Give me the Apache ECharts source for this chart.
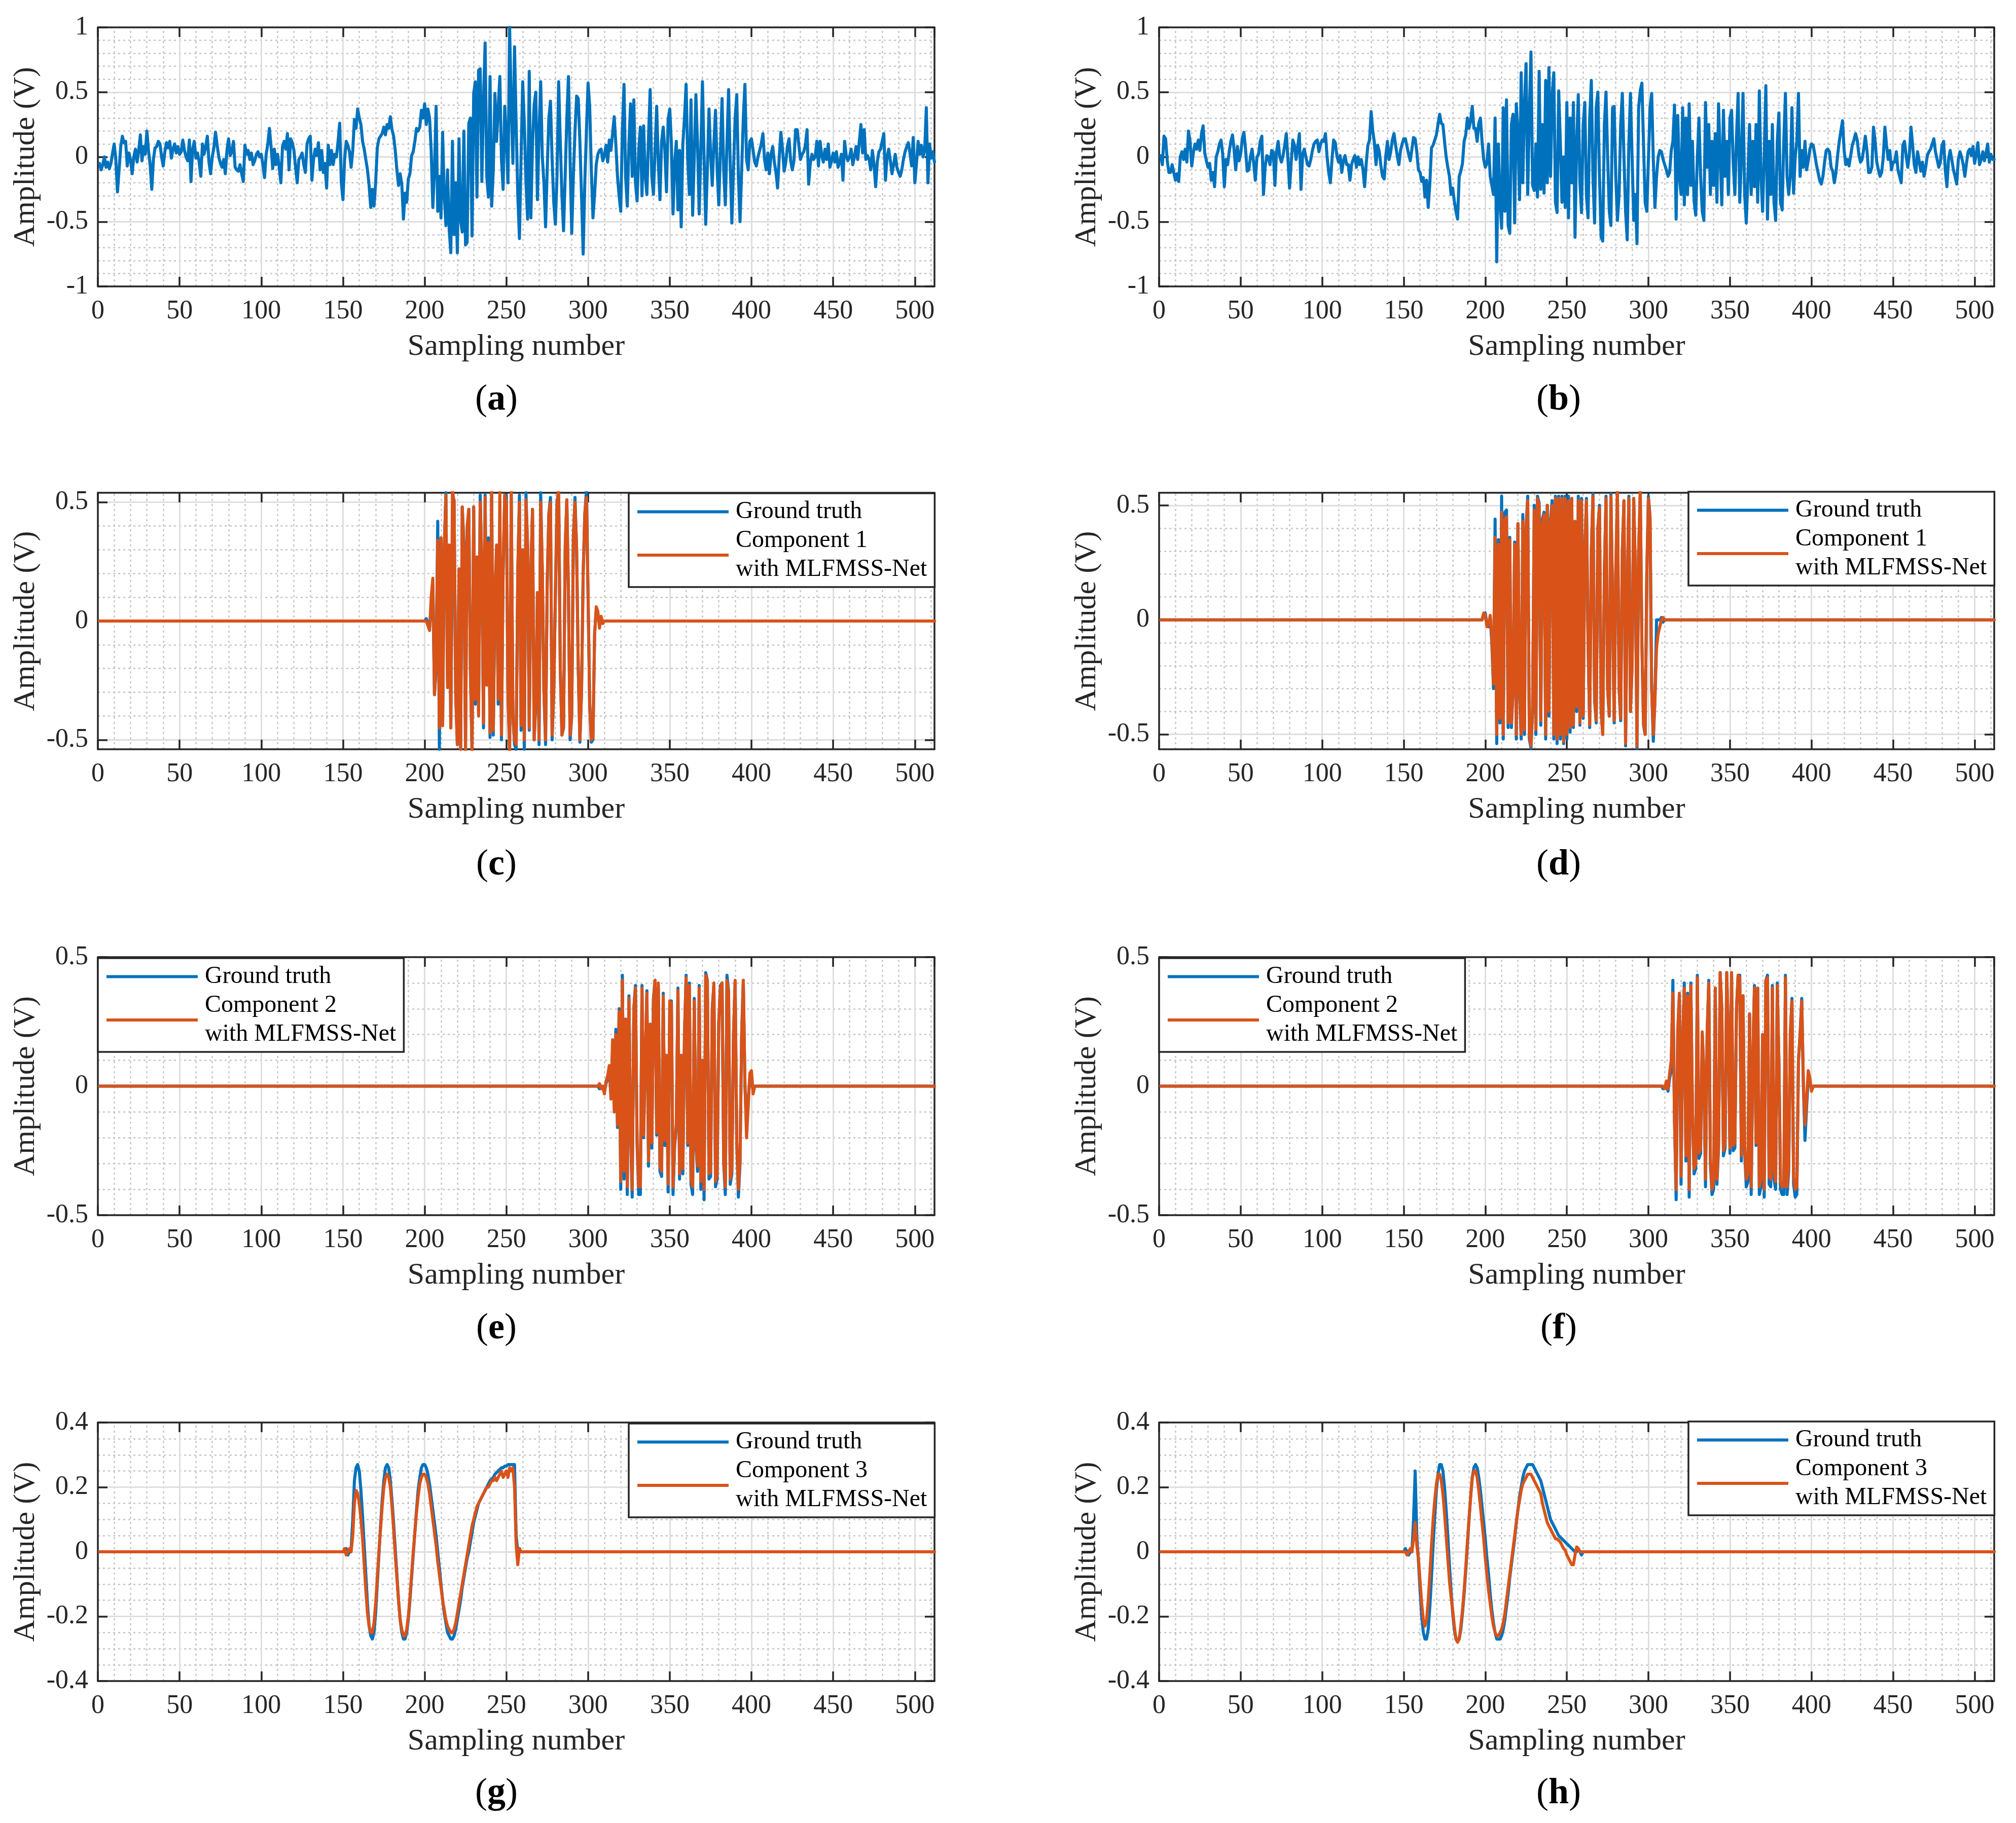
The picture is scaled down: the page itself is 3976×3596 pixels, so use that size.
<!DOCTYPE html>
<html>
<head>
<meta charset="utf-8">
<title>MLFMSS-Net separation results</title>
<script src="https://cdn.jsdelivr.net/npm/echarts@6.0.0/dist/echarts.min.js"></script>
<style>
html, body { margin: 0; padding: 0; background: #fff; }
#chart { width: 3976px; height: 3596px; }
</style>
</head>
<body>
<div id="chart"></div>
<script>
// ---------- values ----------
var sampleAxisMax = 512;
var quietLevel = 0; // flat part of the component traces
var xMajorTicks = [50, 100, 150, 200, 250, 300, 350, 400, 450, 500];
var xMinorTicks = [10, 20, 30, 40, 60, 70, 80, 90, 110, 120, 130, 140, 160, 170, 180, 190,
  210, 220, 230, 240, 260, 270, 280, 290, 310, 320, 330, 340, 360, 370, 380, 390,
  410, 420, 430, 440, 460, 470, 480, 490, 510];

var yTicksWide = [-1, -0.5, 0, 0.5, 1];
var yMajorWide = [-0.5, 0, 0.5];
var yMinorWide = [-0.9, -0.8, -0.7, -0.6, -0.4, -0.3, -0.2, -0.1, 0.1, 0.2, 0.3, 0.4, 0.6, 0.7, 0.8, 0.9];
var yTicksHalf = [-0.5, 0, 0.5];
var yMajorHalf = [-0.5, 0, 0.5];
var yMinorHalf = [-0.4, -0.3, -0.2, -0.1, 0.1, 0.2, 0.3, 0.4];
var yTicksQuarter = [-0.4, -0.2, 0, 0.2, 0.4];
var yMajorQuarter = [-0.2, 0, 0.2];
var yMinorQuarter = [-0.35, -0.3, -0.25, -0.15, -0.1, -0.05, 0.05, 0.1, 0.15, 0.25, 0.3, 0.35];

// (a) mixed signal, samples 1..512
var mixtureA = [
  -0.05,-0.1,-0.06,0.0,-0.08,-0.04,-0.09,-0.05,0.03,0.1, -0.02,-0.27,-0.1,0.08,0.16,0.11,0.12,-0.07,0.03,-0.02,
  -0.13,0.0,0.06,-0.04,0.05,0.17,-0.03,0.08,0.02,0.2, 0.05,-0.06,-0.25,-0.02,0.07,0.08,0.12,0.1,0.0,-0.07,
  0.04,0.11,0.07,0.12,-0.01,0.06,0.1,0.03,0.08,0.02,
  0.04,0.13,0.05,0.0,-0.03,0.13,-0.19,0.06,0.12,-0.01, 0.03,-0.04,-0.15,0.1,0.02,0.08,0.16,-0.04,-0.13,0.0,
  0.07,0.19,0.09,0.0,-0.05,-0.08,-0.02,-0.13,0.05,0.14, 0.01,0.04,0.12,-0.08,-0.1,-0.11,-0.06,-0.13,-0.19,0.09,
  0.02,0.05,-0.02,0.03,-0.06,-0.03,0.02,0.04,0.0,0.02,
  -0.06,-0.16,0.02,0.1,0.22,0.08,-0.09,0.06,-0.06,0.02, -0.08,-0.2,0.08,0.12,0.06,0.18,-0.1,0.14,0.11,0.05,
  -0.08,-0.2,-0.02,0.0,0.03,-0.06,-0.12,0.1,0.14,0.16, -0.18,-0.02,0.06,0.01,0.11,-0.1,0.05,-0.12,-0.05,-0.24,
  0.09,-0.06,0.05,-0.06,0.02,0.0,0.12,0.26,-0.2,-0.33,
  -0.02,0.12,0.09,0.04,-0.08,0.05,0.29,0.22,0.37,0.3, 0.25,0.12,0.06,-0.02,-0.1,-0.22,-0.39,-0.25,-0.38,-0.2,
  0.07,0.14,0.16,0.18,0.23,0.17,0.25,0.22,0.31,0.21, 0.16,0.05,-0.1,-0.22,-0.13,-0.21,-0.48,-0.28,-0.35,-0.17,
  -0.13,0.01,0.04,0.12,0.22,0.2,0.23,0.36,0.3,0.41,
  0.25,0.37,0.3,0.05,-0.39,-0.1,0.39,-0.42,-0.15,-0.47, 0.19,-0.3,-0.53,-0.1,-0.56,-0.74,0.12,-0.6,-0.2,-0.74,
  0.14,-0.49,-0.58,0.2,-0.68,-0.66,0.26,0.3,-0.61,0.49, 0.58,-0.31,0.67,0.68,-0.19,0.43,0.88,-0.15,-0.31,0.62,
  -0.38,-0.1,0.49,0.12,0.37,0.62,-0.02,-0.25,0.39,0.15,
  -0.2,1.0,0.39,-0.05,0.85,0.25,-0.3,-0.63,0.0,0.58, 0.25,-0.2,-0.48,0.66,-0.47,0.1,0.4,0.5,-0.33,0.18,
  0.58,0.0,-0.2,-0.54,-0.1,0.3,0.43,-0.02,-0.35,-0.52, -0.15,0.58,0.12,-0.3,-0.57,-0.15,0.3,0.62,-0.02,-0.59,
  -0.15,0.2,0.47,0.45,0.12,-0.3,-0.75,-0.2,0.2,0.57,
  0.39,-0.1,-0.47,-0.29,-0.06,0.02,0.05,0.06,-0.03,0.01, 0.09,-0.04,0.13,0.05,0.18,0.31,0.1,-0.15,-0.3,-0.42,
  0.2,0.56,-0.16,-0.38,0.1,0.41,-0.15,0.44,-0.2,-0.34, 0.05,0.23,-0.3,0.24,-0.15,-0.29,0.15,0.52,-0.15,-0.29,
  0.05,0.39,-0.05,-0.33,0.12,0.23,0.05,-0.27,0.29,0.37,
  0.1,-0.44,-0.05,0.12,-0.41,0.05,-0.54,0.1,0.3,0.56, -0.02,-0.29,0.44,-0.45,0.0,0.48,0.1,-0.44,0.05,0.58,
  0.0,-0.52,-0.1,0.37,0.02,-0.22,0.1,0.36,-0.1,-0.37, 0.05,0.45,-0.1,-0.37,0.1,0.52,-0.05,-0.51,-0.1,0.3,
  0.48,-0.15,-0.5,-0.1,0.3,0.56,-0.02,-0.1,0.12,0.14,
  0.05,-0.04,-0.07,0.0,0.05,0.1,0.18,-0.02,-0.1,0.03, -0.13,0.02,0.08,-0.04,-0.12,-0.24,0.0,0.19,0.06,-0.11,
  -0.04,0.08,0.14,-0.03,-0.1,-0.03,0.21,0.21,0.09,-0.02, 0.02,0.04,0.09,0.21,-0.21,-0.05,0.02,-0.02,0.0,0.12,
  -0.07,0.12,0.01,-0.04,0.06,-0.02,0.1,-0.08,-0.03,0.03,
  -0.04,0.04,-0.08,-0.04,0.02,-0.18,0.12,0.01,-0.03,0.0, 0.06,-0.06,0.0,0.08,-0.02,0.12,0.25,0.03,0.21,-0.02,
  0.01,-0.02,-0.1,0.05,-0.06,-0.23,-0.04,0.04,0.06,0.12, 0.18,-0.18,0.0,0.06,-0.03,-0.13,-0.06,0.02,-0.08,-0.12,
  -0.15,-0.1,-0.02,0.04,0.08,0.11,0.03,-0.07,0.15,-0.2,
  -0.05,0.12,0.02,0.09,0.0,0.05,0.38,-0.2,0.1,-0.01,0.04,-0.04
];

// (b) mixed signal, samples 1..512
var mixtureB = [
  0.01,-0.06,0.16,0.14,-0.03,-0.12,-0.12,-0.06,-0.12,-0.18, -0.13,-0.19,0.0,0.04,-0.02,0.06,-0.04,0.2,0.12,-0.07,
  0.03,0.1,0.06,0.13,0.05,0.18,0.24,0.03,-0.03,-0.08, -0.05,-0.18,-0.12,-0.23,0.0,0.04,0.1,0.13,0.02,-0.23,
  -0.02,-0.06,0.04,0.12,0.17,0.05,-0.1,0.08,-0.03,0.02,
  0.14,0.19,0.06,-0.11,-0.1,0.0,0.06,-0.05,-0.18,0.0, 0.02,0.12,0.16,-0.29,-0.08,0.01,0.0,-0.06,0.05,0.04,
  -0.22,0.04,0.12,0.0,-0.04,0.01,0.09,0.18,-0.02,-0.24, -0.04,0.13,0.09,-0.02,0.08,0.18,-0.25,0.02,0.06,0.0,
  -0.06,-0.07,-0.02,0.05,0.1,0.12,0.13,0.04,0.1,0.13,
  0.12,0.18,0.0,-0.12,-0.2,-0.02,0.13,0.11,0.01,-0.04, 0.01,-0.12,-0.03,0.01,-0.06,-0.06,-0.18,-0.06,-0.02,0.01,
  -0.08,0.0,-0.06,-0.02,-0.1,-0.23,-0.05,0.09,0.13,0.35, 0.2,0.11,-0.06,0.09,0.04,-0.07,-0.15,-0.17,0.01,0.12,
  -0.02,0.04,0.13,0.18,0.09,0.01,-0.06,0.05,0.1,0.14,
  0.14,0.08,0.02,-0.03,0.06,0.15,0.14,0.04,-0.1,-0.12, -0.19,-0.16,-0.31,-0.18,-0.39,-0.2,0.07,0.09,0.13,0.17,
  0.25,0.33,0.26,0.25,0.12,0.0,-0.08,-0.15,-0.29,-0.24, -0.34,-0.42,-0.48,-0.15,-0.11,-0.05,0.12,0.17,0.3,0.22,
  0.28,0.39,0.22,0.22,0.12,0.26,0.3,0.12,-0.02,-0.08,
  -0.05,0.1,-0.15,-0.22,-0.29,0.3,-0.81,0.1,-0.35,-0.55, 0.38,-0.42,0.44,-0.53,-0.59,0.25,0.33,-0.51,0.41,0.2,
  -0.33,0.65,-0.2,0.4,0.72,-0.29,0.33,0.81,-0.22,-0.26, 0.1,-0.31,0.66,-0.25,0.25,-0.28,0.59,-0.2,0.69,-0.15,
  0.48,0.65,-0.35,-0.43,0.51,0.12,-0.35,0.0,-0.39,0.42,
  -0.47,0.3,-0.2,0.42,-0.62,0.1,0.48,-0.2,-0.43,0.25, 0.42,-0.3,-0.47,0.3,0.59,-0.15,-0.51,0.38,0.5,-0.15,
  -0.62,-0.65,0.25,0.5,0.0,-0.42,-0.53,0.38,0.39,-0.15, -0.49,-0.3,0.25,0.49,0.0,-0.42,-0.64,0.1,0.49,0.0,
  -0.49,-0.29,-0.67,0.38,0.51,0.57,0.1,-0.35,-0.42,-0.02,
  0.38,0.49,-0.02,-0.39,-0.15,0.0,0.05,0.04,-0.02,-0.06, -0.1,-0.15,-0.12,0.05,0.12,0.4,-0.48,0.32,-0.15,-0.29,
  0.38,-0.37,0.3,-0.29,0.41,-0.22,0.12,-0.34,-0.45,0.0, 0.3,-0.15,-0.42,-0.49,0.42,-0.08,0.25,-0.29,0.12,-0.22,
  0.18,-0.35,0.41,0.0,-0.37,0.36,-0.15,0.12,-0.29,0.3,
  0.36,-0.05,-0.29,0.15,0.49,-0.35,0.0,0.49,-0.29,-0.51, -0.15,0.25,-0.29,0.12,-0.23,0.25,-0.35,0.51,-0.15,-0.42,
  0.0,0.55,-0.48,0.12,-0.29,0.25,-0.35,-0.49,0.12,0.34, -0.35,-0.41,0.12,0.49,-0.15,-0.29,-0.15,0.38,-0.28,0.0,
  0.12,0.49,-0.15,0.05,-0.08,0.12,-0.1,-0.03,0.06,0.1,
  0.09,0.02,-0.06,-0.12,-0.18,-0.21,-0.15,-0.04,0.05,0.06, 0.04,-0.08,-0.11,-0.2,-0.12,0.01,0.12,0.2,0.28,0.05,
  -0.06,-0.02,-0.07,0.01,0.09,0.13,0.18,0.13,0.02,-0.04, -0.02,0.06,0.16,0.05,-0.12,-0.12,-0.08,0.23,0.12,-0.04,
  -0.1,-0.15,-0.12,0.0,0.23,0.09,-0.02,0.05,-0.1,-0.04,
  -0.04,0.04,-0.1,-0.15,-0.2,0.09,0.12,0.01,-0.08,0.02, 0.23,0.09,-0.06,-0.12,0.04,-0.03,-0.11,-0.04,-0.15,-0.08,
  0.01,0.04,0.06,0.1,0.14,0.04,-0.02,-0.08,-0.04,0.09, 0.12,-0.1,-0.23,-0.02,0.05,-0.02,-0.1,-0.15,-0.21,-0.02,
  0.04,0.0,-0.06,-0.15,-0.05,0.04,0.06,0.01,0.08,-0.05,
  0.02,0.11,-0.06,-0.02,0.04,-0.03,0.03,0.1,-0.04,0.02,-0.02,-0.02
];

// (c) component 1, samples 200..310
var comp1StartC = 200;
var comp1TruthC = [
  0.0,0.01,-0.01,-0.03,0.06,0.15,-0.31,-0.2,0.42,-0.54,
  0.35,-0.44,0.3,0.54,-0.25,0.3,-0.45,0.36,0.51,-0.3,
  -0.52,0.2,-0.54,0.48,0.33,-0.54,0.38,0.47,-0.2,-0.54,
  0.48,-0.35,0.25,-0.38,0.53,0.22,-0.45,0.53,-0.25,0.35,
  -0.49,0.54,-0.48,0.1,0.3,-0.35,0.37,-0.5,0.2,0.53,
  0.53,-0.3,-0.54,0.53,-0.4,-0.52,-0.54,0.2,0.53,-0.46,
  0.3,-0.54,0.54,0.3,-0.46,0.2,0.47,-0.5,-0.35,0.1,
  -0.52,0.54,0.2,-0.3,-0.52,0.15,0.45,0.52,-0.5,-0.3,
  0.1,0.5,0.55,-0.2,-0.48,-0.45,0.3,0.51,0.1,-0.5,
  -0.4,0.35,0.52,0.3,-0.2,-0.51,-0.3,0.2,0.45,0.55,
  0.1,-0.35,-0.51,-0.5,-0.05,0.04,0.02,-0.01,0.01,-0.01,
  0.0
];
var comp1NetC = [
  0.0,0.0,-0.02,-0.04,0.1,0.18,-0.31,-0.18,0.34,-0.45,
  0.35,-0.44,0.31,0.53,-0.28,0.32,-0.45,0.55,0.5,-0.32,
  -0.52,0.22,-0.54,0.48,0.3,-0.55,0.4,0.47,-0.22,-0.55,
  0.48,-0.33,0.27,-0.4,0.5,0.25,-0.43,0.52,-0.27,0.33,
  -0.47,0.55,-0.46,0.12,0.32,-0.33,0.55,-0.48,0.22,0.53,
  0.5,-0.32,-0.55,0.55,-0.4,-0.5,-0.52,0.22,0.5,-0.44,
  0.3,-0.5,0.51,0.32,-0.45,0.22,0.47,-0.5,-0.33,0.12,
  -0.5,0.5,0.22,-0.3,-0.5,0.17,0.45,0.5,-0.48,-0.3,
  0.12,0.48,0.56,-0.2,-0.48,-0.44,0.32,0.51,0.12,-0.48,
  -0.4,0.35,0.5,0.3,-0.2,-0.5,-0.3,0.2,0.45,0.52,
  0.12,-0.35,-0.5,-0.49,-0.06,0.06,0.04,-0.03,0.02,-0.01,
  0.0
];

// (d) component 1, samples 198..310
var comp1StartD = 198;
var comp1TruthD = [
  0.0,0.02,0.03,-0.02,-0.03,0.01,-0.1,-0.3,
  0.44,-0.54,0.35,-0.45,0.54,-0.52,0.47,0.48,-0.47,0.36,
  -0.47,-0.31,0.34,-0.52,0.42,-0.32,-0.52,0.46,-0.5,0.4,
  0.54,-0.52,-0.56,-0.4,0.5,-0.5,0.54,0.51,-0.46,0.44,
  0.47,-0.52,0.5,-0.42,0.44,0.52,-0.52,0.54,-0.54,0.54,
  -0.52,0.54,-0.54,0.54,-0.52,0.54,-0.49,0.53,-0.47,0.43,
  -0.4,0.54,-0.46,0.53,-0.43,0.3,
  0.53,-0.1,-0.47,0.3,0.55,-0.35,-0.45,0.4,0.5,-0.4,
  -0.5,0.2,0.54,-0.3,-0.42,0.55,0.1,-0.45,0.2,0.55,
  -0.3,-0.44,0.3,0.52,-0.55,0.1,0.54,-0.4,-0.2,0.53,
  0.2,-0.56,0.3,0.54,-0.1,-0.46,-0.5,0.2,0.54,0.45,
  -0.3,-0.53,-0.35,0.0,0.0,0.0,0.01,-0.01,0.0
];
var comp1NetD = [
  0.0,0.03,0.02,-0.03,-0.02,0.02,-0.08,-0.28,
  0.36,-0.5,0.33,-0.43,0.47,-0.5,0.44,0.45,-0.45,0.35,
  -0.45,-0.3,0.33,-0.5,0.42,-0.3,-0.5,0.43,-0.48,0.4,
  0.52,-0.5,-0.55,-0.38,0.48,-0.48,0.53,0.5,-0.44,0.42,
  0.46,-0.5,0.5,-0.4,0.42,0.5,-0.5,0.53,-0.52,0.53,
  -0.5,0.53,-0.53,0.53,-0.5,0.52,-0.47,0.53,-0.46,0.43,
  -0.38,0.52,-0.45,0.52,-0.42,0.3,
  0.52,-0.1,-0.46,0.3,0.54,-0.33,-0.44,0.4,0.49,-0.39,
  -0.5,0.22,0.53,-0.3,-0.42,0.54,0.1,-0.44,0.22,0.58,
  -0.3,-0.43,0.3,0.52,-0.54,0.12,0.53,-0.4,-0.2,0.53,
  0.22,-0.55,0.3,0.58,-0.1,-0.45,-0.5,0.2,0.53,0.44,
  -0.3,-0.5,-0.35,-0.12,-0.06,-0.03,0.0,0.01,0.0
];

// (e) component 2, samples 306..402
var comp2StartE = 306;
var comp2TruthE = [
  0.0,-0.01,0.0,-0.01,
  -0.02,0.01,0.03,0.05,-0.03,0.14,-0.08,0.22,-0.16,0.3,
  -0.4,0.43,-0.36,0.26,-0.42,0.35,-0.17,-0.43,0.3,0.39,
  -0.23,-0.42,-0.42,0.39,-0.2,0.1,0.37,-0.31,0.24,-0.24,
  0.34,0.41,-0.19,0.38,-0.33,-0.35,0.36,-0.23,0.1,-0.41,
  0.33,0.33,-0.42,-0.23,-0.16,0.38,-0.36,0.1,-0.34,0.2,
  0.43,-0.23,0.4,-0.38,-0.42,0.34,-0.23,-0.33,0.39,-0.4,
  0.1,-0.44,0.44,0.41,-0.36,-0.35,0.3,0.39,-0.39,-0.36,
  0.25,0.39,0.4,-0.3,-0.42,0.43,0.37,-0.38,-0.34,0.2,
  0.4,-0.22,-0.43,-0.3,0.2,0.41,0.0,-0.16,-0.05,0.03,
  0.01,-0.01,0.0
];
var comp2NetE = [
  0.0,0.01,-0.01,0.0,
  -0.03,0.02,0.04,0.08,-0.05,0.18,-0.1,0.2,-0.15,0.29,
  -0.37,0.41,-0.33,0.26,-0.39,0.34,-0.16,-0.4,0.3,0.38,
  -0.21,-0.39,-0.39,0.38,-0.19,0.12,0.36,-0.29,0.24,-0.22,
  0.33,0.41,-0.18,0.4,-0.31,-0.33,0.35,-0.21,0.12,-0.38,
  0.33,0.32,-0.39,-0.22,-0.15,0.37,-0.34,0.12,-0.32,0.2,
  0.42,-0.22,0.39,-0.36,-0.39,0.33,-0.22,-0.31,0.38,-0.37,
  0.1,-0.4,0.43,0.41,-0.34,-0.33,0.3,0.4,-0.37,-0.34,
  0.25,0.38,0.4,-0.28,-0.39,0.41,0.36,-0.36,-0.32,0.2,
  0.41,-0.21,-0.4,-0.28,0.2,0.41,0.02,-0.2,-0.08,0.05,
  0.06,-0.03,0.0
];

// (f) component 2, samples 308..402
var comp2StartF = 308;
var comp2TruthF = [
  0.0,-0.01,
  0.0,0.01,-0.02,0.03,0.06,0.41,-0.13,-0.44,0.2,0.35,
  -0.38,0.16,0.4,-0.29,0.36,-0.43,0.4,-0.1,-0.34,-0.32,
  0.43,-0.28,-0.26,0.2,0.05,-0.39,0.2,0.41,-0.3,-0.42,
  -0.4,0.38,-0.38,-0.24,0.44,0.3,-0.27,-0.24,0.44,0.2,
  -0.26,0.43,-0.25,-0.24,0.3,0.43,0.43,-0.29,0.35,-0.25,
  -0.39,-0.37,0.28,-0.42,0.1,0.39,-0.23,0.38,-0.42,-0.39,
  0.2,-0.43,0.41,0.43,-0.38,-0.39,0.39,-0.36,-0.4,0.4,
  0.1,-0.4,-0.42,-0.42,0.43,-0.42,-0.33,0.2,0.34,-0.38,
  -0.43,-0.42,0.1,0.2,0.34,0.0,-0.21,-0.08,0.03,0.01,
  -0.01,0.0,0.0
];
var comp2NetF = [
  0.0,0.0,
  -0.01,0.02,-0.01,0.05,0.1,0.36,-0.14,-0.4,0.22,0.36,
  -0.35,0.18,0.38,-0.27,0.35,-0.4,0.39,-0.1,-0.32,-0.3,
  0.42,-0.26,-0.24,0.21,0.06,-0.36,0.21,0.4,-0.28,-0.4,
  -0.37,0.38,-0.36,-0.22,0.44,0.3,-0.25,-0.22,0.44,0.22,
  -0.24,0.44,-0.23,-0.22,0.3,0.43,0.42,-0.27,0.35,-0.23,
  -0.36,-0.34,0.28,-0.39,0.1,0.38,-0.22,0.38,-0.39,-0.36,
  0.2,-0.4,0.41,0.42,-0.35,-0.36,0.38,-0.33,-0.37,0.39,
  0.1,-0.37,-0.39,-0.39,0.42,-0.39,-0.31,0.2,0.33,-0.35,
  -0.4,-0.39,0.1,0.2,0.33,0.02,-0.15,-0.05,0.06,0.03,
  -0.02,0.0,0.0
];

// (g) component 3, samples 150..260
var comp3StartG = 150;
var comp3TruthG = [
  0.0,0.0,0.01,-0.01,0.0,0.01,0.1,0.22,0.26,0.27,
  0.25,0.19,0.11,0.02,-0.07,-0.16,-0.23,-0.26,-0.27,-0.25,
  -0.19,-0.1,-0.01,0.08,0.16,0.22,0.26,0.27,0.26,0.22,
  0.16,0.09,0.01,-0.07,-0.15,-0.21,-0.25,-0.27,-0.27,-0.25,
  -0.21,-0.15,-0.08,-0.01,0.06,0.13,0.19,0.23,0.26,0.27,
  0.27,0.26,0.24,0.21,0.17,0.13,0.09,0.05,0.0,-0.05,
  -0.1,-0.15,-0.19,-0.22,-0.25,-0.26,-0.27,-0.27,-0.26,-0.24,
  -0.21,-0.18,-0.15,-0.11,-0.08,-0.05,-0.02,0.0,0.03,0.06,
  0.09,0.11,0.13,0.15,0.16,0.17,0.18,0.19,0.2,0.21,
  0.22,0.225,0.23,0.24,0.245,0.25,0.255,0.26,0.26,0.265,
  0.265,0.27,0.27,0.27,0.27,0.27,0.05,0.0,0.01,0.0,
  0.0
];
var comp3NetG = [
  0.0,0.01,-0.01,0.0,0.01,0.0,0.05,0.15,0.19,0.18,
  0.15,0.1,0.04,-0.04,-0.12,-0.19,-0.23,-0.25,-0.25,-0.22,
  -0.16,-0.08,0.0,0.07,0.14,0.2,0.23,0.24,0.23,0.2,
  0.14,0.07,-0.01,-0.08,-0.15,-0.21,-0.24,-0.26,-0.26,-0.24,
  -0.2,-0.14,-0.07,0.0,0.06,0.12,0.17,0.21,0.23,0.24,
  0.24,0.23,0.21,0.18,0.14,0.1,0.06,0.02,-0.03,-0.07,
  -0.11,-0.15,-0.18,-0.21,-0.23,-0.24,-0.25,-0.25,-0.24,-0.22,
  -0.19,-0.16,-0.13,-0.1,-0.07,-0.04,-0.01,0.02,0.05,0.08,
  0.1,0.12,0.14,0.15,0.16,0.17,0.18,0.19,0.2,0.2,
  0.21,0.22,0.22,0.23,0.22,0.23,0.24,0.25,0.23,0.24,
  0.25,0.23,0.26,0.25,0.26,0.2,0.02,-0.04,0.01,0.0,
  0.0
];

// (h) component 3, samples 150..260
var comp3StartH = 150;
var comp3TruthH = [
  0.0,0.01,0.0,-0.01,0.0,0.0,0.1,0.25,0.05,-0.03,
  -0.12,-0.2,-0.25,-0.27,-0.27,-0.24,-0.17,-0.08,0.02,0.11,
  0.19,0.24,0.27,0.27,0.25,0.2,0.13,0.05,-0.04,-0.12,
  -0.19,-0.24,-0.27,-0.27,-0.27,-0.24,-0.19,-0.13,-0.06,0.02,
  0.1,0.17,0.23,0.26,0.27,0.26,0.23,0.19,0.14,0.09,
  0.04,-0.02,-0.07,-0.13,-0.18,-0.22,-0.25,-0.27,-0.27,-0.27,
  -0.26,-0.24,-0.21,-0.17,-0.13,-0.08,-0.04,0.0,0.04,0.09,
  0.13,0.17,0.2,0.23,0.25,0.26,0.27,0.27,0.27,0.27,
  0.26,0.25,0.24,0.23,0.22,0.2,0.18,0.16,0.14,0.12,
  0.1,0.09,0.08,0.07,0.06,0.05,0.045,0.04,0.035,0.03,
  0.025,0.02,0.015,0.01,0.005,0.0,0.0,0.01,0.0,-0.01,
  0.0
];
var comp3NetH = [
  0.0,0.0,-0.01,0.0,0.01,0.0,0.04,0.09,0.02,-0.02,
  -0.09,-0.16,-0.21,-0.23,-0.21,-0.15,-0.07,0.02,0.1,0.16,
  0.21,0.24,0.24,0.22,0.18,0.12,0.05,-0.02,-0.09,-0.14,
  -0.18,-0.23,-0.27,-0.28,-0.27,-0.23,-0.18,-0.12,-0.05,0.03,
  0.1,0.17,0.23,0.25,0.25,0.23,0.19,0.14,0.09,0.04,
  -0.02,-0.07,-0.12,-0.16,-0.2,-0.23,-0.25,-0.26,-0.26,-0.25,
  -0.24,-0.22,-0.19,-0.15,-0.11,-0.07,-0.03,0.01,0.05,0.09,
  0.13,0.16,0.19,0.21,0.22,0.23,0.24,0.24,0.24,0.23,
  0.22,0.21,0.2,0.19,0.18,0.15,0.13,0.11,0.09,0.08,
  0.07,0.06,0.05,0.04,0.04,0.035,0.03,0.02,0.01,0.005,
  -0.01,-0.02,-0.03,-0.04,-0.04,-0.01,0.015,0.01,0.0,0.0,
  0.0
];

// ---------- styling / layout ----------
var FONT = "'Liberation Serif', 'Times New Roman', serif";
var AXIS_COLOR = '#262626';
var BLUE = '#0072BD';
var ORANGE = '#D95319';
var TRUTH = 'Ground truth';

var colLeft = [193, 2286];
var colWidth = [1650, 1647];
var rowTop = [54, 972, 1888, 2806];
var rowHeight = [511, 506, 509, 510];
var captionX = [979, 3074];
var captionY = [789, 1706, 2621, 3538];

var majorGrid = { color: '#dedede', width: 3, type: 'solid' };
var minorGrid = { color: '#c4c4c4', width: 2.5, type: [4, 6] };

function pts(start, values, padded) {
    var out = values.map(function (v, i) { return [start + i, v]; });
    if (padded) {
        out.unshift([1, quietLevel]);
        out.push([sampleAxisMax, quietLevel]);
    }
    return out;
}

var panels = [
    { tag: 'a', col: 0, row: 0, yMin: -1, yMax: 1, yInterval: 0.5, yTicks: yTicksWide, yMajor: yMajorWide, yMinor: yMinorWide,
      traces: [{ name: TRUTH, color: BLUE, data: pts(1, mixtureA, false) }] },
    { tag: 'b', col: 1, row: 0, yMin: -1, yMax: 1, yInterval: 0.5, yTicks: yTicksWide, yMajor: yMajorWide, yMinor: yMinorWide,
      traces: [{ name: TRUTH, color: BLUE, data: pts(1, mixtureB, false) }] },
    { tag: 'c', col: 0, row: 1, yMin: -0.54, yMax: 0.54, yTicks: yTicksHalf, yMajor: yMajorHalf, yMinor: yMinorHalf,
      legend: { left: 1240, top: 973 }, netName: 'Component 1\nwith MLFMSS-Net',
      traces: [{ name: TRUTH, color: BLUE, data: pts(comp1StartC, comp1TruthC, true) },
               { name: 'Component 1\nwith MLFMSS-Net', color: ORANGE, data: pts(comp1StartC, comp1NetC, true) }] },
    { tag: 'd', col: 1, row: 1, yMin: -0.565, yMax: 0.555, yTicks: yTicksHalf, yMajor: yMajorHalf, yMinor: yMinorHalf,
      legend: { left: 3330, top: 970 }, netName: 'Component 1\nwith MLFMSS-Net',
      traces: [{ name: TRUTH, color: BLUE, data: pts(comp1StartD, comp1TruthD, true) },
               { name: 'Component 1\nwith MLFMSS-Net', color: ORANGE, data: pts(comp1StartD, comp1NetD, true) }] },
    { tag: 'e', col: 0, row: 2, yMin: -0.5, yMax: 0.5, yInterval: 0.5, yTicks: yTicksHalf, yMajor: yMajorHalf, yMinor: yMinorHalf,
      legend: { left: 193, top: 1890 }, netName: 'Component 2\nwith MLFMSS-Net',
      traces: [{ name: TRUTH, color: BLUE, data: pts(comp2StartE, comp2TruthE, true) },
               { name: 'Component 2\nwith MLFMSS-Net', color: ORANGE, data: pts(comp2StartE, comp2NetE, true) }] },
    { tag: 'f', col: 1, row: 2, yMin: -0.5, yMax: 0.5, yInterval: 0.5, yTicks: yTicksHalf, yMajor: yMajorHalf, yMinor: yMinorHalf,
      legend: { left: 2286, top: 1890 }, netName: 'Component 2\nwith MLFMSS-Net',
      traces: [{ name: TRUTH, color: BLUE, data: pts(comp2StartF, comp2TruthF, true) },
               { name: 'Component 2\nwith MLFMSS-Net', color: ORANGE, data: pts(comp2StartF, comp2NetF, true) }] },
    { tag: 'g', col: 0, row: 3, yMin: -0.4, yMax: 0.4, yInterval: 0.2, yTicks: yTicksQuarter, yMajor: yMajorQuarter, yMinor: yMinorQuarter,
      legend: { left: 1240, top: 2808 }, netName: 'Component 3\nwith MLFMSS-Net',
      traces: [{ name: TRUTH, color: BLUE, data: pts(comp3StartG, comp3TruthG, true) },
               { name: 'Component 3\nwith MLFMSS-Net', color: ORANGE, data: pts(comp3StartG, comp3NetG, true) }] },
    { tag: 'h', col: 1, row: 3, yMin: -0.4, yMax: 0.4, yInterval: 0.2, yTicks: yTicksQuarter, yMajor: yMajorQuarter, yMinor: yMinorQuarter,
      legend: { left: 3330, top: 2804 }, netName: 'Component 3\nwith MLFMSS-Net',
      traces: [{ name: TRUTH, color: BLUE, data: pts(comp3StartH, comp3TruthH, true) },
               { name: 'Component 3\nwith MLFMSS-Net', color: ORANGE, data: pts(comp3StartH, comp3NetH, true) }] }
];

function axisLineCfg() {
    return { show: true, onZero: false, lineStyle: { color: AXIS_COLOR, width: 3.5 } };
}
function axisTickCfg() {
    return { show: true, inside: true, length: 19, lineStyle: { color: AXIS_COLOR, width: 3.5 } };
}

function xAxisFor(k, pos) {
    var main = pos === 'bottom';
    return {
        gridIndex: k, type: 'value', position: pos, min: 0, max: sampleAxisMax, interval: 50, z: 2,
        axisLine: axisLineCfg(), axisTick: axisTickCfg(),
        axisLabel: { show: main, margin: 23, fontSize: 52, fontFamily: FONT, color: AXIS_COLOR, showMaxLabel: false },
        splitLine: { show: false },
        name: main ? 'Sampling number' : '', nameLocation: 'middle', nameGap: 89,
        nameTextStyle: { fontSize: 60, fontFamily: FONT, color: AXIS_COLOR }
    };
}

function yAxisFor(k, p, pos) {
    var main = pos === 'left';
    var ax = {
        gridIndex: k, type: 'value', position: pos, min: p.yMin, max: p.yMax, z: 2,
        axisLine: axisLineCfg(), axisTick: axisTickCfg(),
        axisLabel: { show: main, margin: 19, fontSize: 52, fontFamily: FONT, color: AXIS_COLOR },
        splitLine: { show: false },
        name: main ? 'Amplitude (V)' : '', nameLocation: 'middle', nameGap: 112, nameRotate: 90,
        nameTextStyle: { fontSize: 60, fontFamily: FONT, color: AXIS_COLOR }
    };
    if (p.yInterval) {
        ax.interval = p.yInterval;
    } else {
        ax.axisTick.customValues = p.yTicks;
        ax.axisLabel.customValues = p.yTicks;
    }
    return ax;
}

function gridLines(p) {
    var items = [];
    xMinorTicks.forEach(function (v) { items.push({ xAxis: v, lineStyle: minorGrid }); });
    p.yMinor.forEach(function (v) { items.push({ yAxis: v, lineStyle: minorGrid }); });
    xMajorTicks.forEach(function (v) { items.push({ xAxis: v, lineStyle: majorGrid }); });
    p.yMajor.forEach(function (v) { items.push({ yAxis: v, lineStyle: majorGrid }); });
    return items;
}

var option = {
    animation: false,
    backgroundColor: '#ffffff',
    grid: [], xAxis: [], yAxis: [], series: [], legend: [], graphic: []
};

panels.forEach(function (p, k) {
    option.grid.push({
        left: colLeft[p.col], top: rowTop[p.row],
        width: colWidth[p.col], height: rowHeight[p.row]
    });
    option.xAxis.push(xAxisFor(k, 'bottom'), xAxisFor(k, 'top'));
    option.yAxis.push(yAxisFor(k, p, 'left'), yAxisFor(k, p, 'right'));

    // grid lines (major solid, minor dotted) drawn through the panel's own axes
    option.series.push({
        type: 'line', data: [], xAxisIndex: 2 * k, yAxisIndex: 2 * k, silent: true, z: 1,
        markLine: {
            silent: true, symbol: ['none', 'none'], z: 1, animation: false,
            label: { show: false }, emphasis: { disabled: true },
            data: gridLines(p)
        }
    });

    p.traces.forEach(function (t, j) {
        option.series.push({
            type: 'line', name: t.name, data: t.data,
            xAxisIndex: 2 * k, yAxisIndex: 2 * k,
            showSymbol: false, symbol: 'none', clip: true, z: 3 + j,
            color: t.color,
            lineStyle: { color: t.color, width: 6, join: 'round', cap: 'round' },
            emphasis: { disabled: true }
        });
    });

    if (p.legend) {
        option.legend.push({
            orient: 'vertical', left: p.legend.left, top: p.legend.top, z: 10,
            icon: 'rect', itemWidth: 180, itemHeight: 6, itemGap: 0,
            padding: [8, 15, 6, 17],
            borderColor: AXIS_COLOR, borderWidth: 3.5, backgroundColor: '#ffffff',
            selectedMode: false,
            textStyle: { fontFamily: FONT, fontSize: 48, lineHeight: 57, color: '#000', padding: [0, 0, 0, 9] },
            data: [TRUTH, p.netName]
        });
    }

    option.graphic.push({
        type: 'text', x: captionX[p.col], y: captionY[p.row], z: 10,
        style: {
            text: '{p|(}{b|' + p.tag + '}{p|)}',
            textAlign: 'center', textVerticalAlign: 'middle',
            align: 'center', verticalAlign: 'middle',
            fill: '#000',
            rich: {
                p: { fontSize: 72, fontFamily: FONT, fontWeight: 'normal', fill: '#000' },
                b: { fontSize: 72, fontFamily: FONT, fontWeight: 'bold', fill: '#000' }
            }
        }
    });
});

var chart = echarts.init(document.getElementById('chart'), null, { renderer: 'canvas', width: 3976, height: 3596 });
chart.setOption(option);
</script>
</body>
</html>
